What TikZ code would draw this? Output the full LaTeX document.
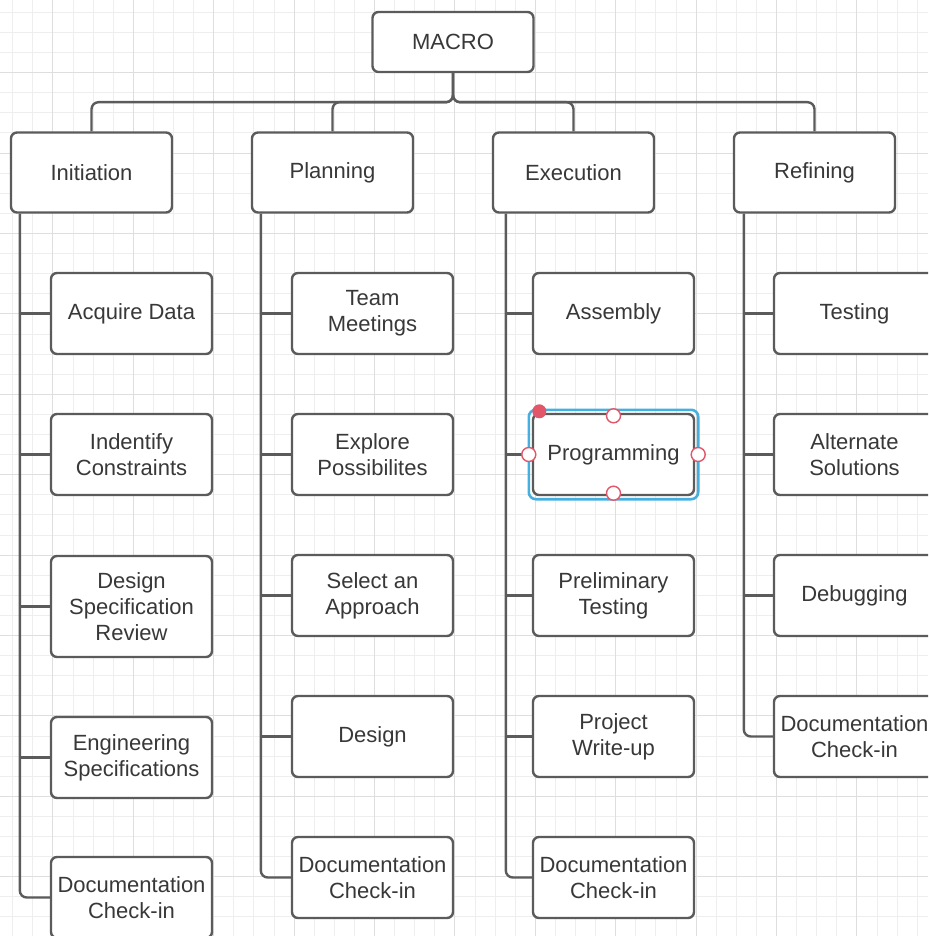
\documentclass[tikz,border=0pt]{standalone}
\usepackage{fontspec}
\setmainfont{Liberation Sans}
\usepackage{xcolor}
\usetikzlibrary{positioning, calc}
\definecolor{kline}{HTML}{5B5B5B}
\definecolor{ktext}{HTML}{383838}
\definecolor{kgridminor}{HTML}{EEEEEE}
\definecolor{kgridmajor}{HTML}{DEDEDE}
\definecolor{kselect}{HTML}{45B0E0}
\definecolor{khandle}{HTML}{E2566A}
\newcommand{\boxfont}{\fontsize{22}{26}\selectfont}
\tikzset{
  box/.style={draw=kline, line width=2.4pt, rounded corners=6pt, fill=white,
    text=ktext, font=\boxfont, align=center, inner sep=2pt,
    minimum width=161pt, minimum height=81pt},
  conn/.style={draw=kline, line width=2.4pt, rounded corners=7pt},
  handle/.style={draw=khandle, fill=white, line width=1.4pt},
}

\begin{document}
\begin{tikzpicture}[x=1pt, y=-1pt]

  \useasboundingbox (0,0) rectangle (928,936);
  \clip (0,0) rectangle (928,936);

  %% Background grid
  \fill[white] (0,0) rectangle (928,936);
  \foreach \gx in {12.7,32.8,...,928}
    \draw[kgridminor, line width=1pt] (\gx,0) -- (\gx,936);
  \foreach \gy in {12.4,32.5,...,936}
    \draw[kgridminor, line width=1pt] (0,\gy) -- (928,\gy);
  \foreach \gx in {52.9,133.3,...,928}
    \draw[kgridmajor, line width=1pt] (\gx,0) -- (\gx,936);
  \foreach \gy in {72.7,153.1,...,936}
    \draw[kgridmajor, line width=1pt] (0,\gy) -- (928,\gy);

  %% Top level and phases
  \node[box, minimum height=60pt] (macro) at (453,42) {MACRO};
  \node[box, minimum height=80pt] (ini) at (91.5,172.5) {Initiation};
  \node[box, minimum height=80pt] (pla) at (332.5,172.5) {Planning};
  \node[box, minimum height=80pt] (exe) at (573.5,172.5) {Execution};
  \node[box, minimum height=80pt] (ref) at (814.5,172.5) {Refining};

  \foreach \c in {ini,pla,exe,ref}
    \draw[conn] (macro.south) -- ++(0,29) -| (\c.north);

  %% Initiation tasks
  \foreach \k/\y/\h/\txt in {1/313.5/81/Acquire Data,
      2/454.5/81/Indentify\\Constraints,
      3/606.5/101/Design\\Specification\\Review,
      4/757.5/81/Engineering\\Specifications,
      5/897.5/81/Documentation\\Check-in}
    \node[box, minimum height=\h pt] (ini\k) at (131.5,\y) {\txt};

  %% Planning tasks
  \foreach \k/\y/\txt in {1/313.5/Team\\Meetings,
      2/454.5/Explore\\Possibilites,
      3/595.5/Select an\\Approach,
      4/736.5/Design,
      5/877.5/Documentation\\Check-in}
    \node[box] (pla\k) at (372.5,\y) {\txt};

  %% Execution tasks
  \foreach \k/\y/\txt in {1/313.5/Assembly,
      2/454.5/Programming,
      3/595.5/Preliminary\\Testing,
      4/736.5/Project\\Write-up,
      5/877.5/Documentation\\Check-in}
    \node[box] (exe\k) at (613.5,\y) {\txt};

  %% Refining tasks
  \foreach \k/\y/\txt in {1/313.5/Testing,
      2/454.5/Alternate\\Solutions,
      3/595.5/Debugging,
      4/736.5/Documentation\\Check-in}
    \node[box] (ref\k) at (854.5,\y) {\txt};

  %% Trunks down each phase
  \coordinate (iniT) at ([xshift=10pt]ini.south west);
  \coordinate (plaT) at ([xshift=10pt]pla.south west);
  \coordinate (exeT) at ([xshift=14pt]exe.south west);
  \coordinate (refT) at ([xshift=11pt]ref.south west);

  \foreach \c/\n in {ini/5,pla/5,exe/5,ref/4}{
    \draw[conn] (\c T) |- (\c\n.west);
    \pgfmathtruncatemacro{\last}{\n-1}
    \foreach \k in {1,...,\last}
      \draw[conn] (\c\k.west -| \c T) -- (\c\k.west);
  }

  %% Selected shape
  \draw[kselect, line width=2.6pt, rounded corners=7pt]
    ([shift={(-3,-3)}]exe2.north west) rectangle ([shift={(3,3)}]exe2.south east);
  \fill[khandle] ([shift={(7.5,-1.5)}]exe2.north west) circle (7);
  \draw[handle] ([yshift=-3pt]exe2.north) circle (7);
  \draw[handle] ([yshift=3pt]exe2.south) circle (7);
  \draw[handle] ([xshift=-3pt]exe2.west) circle (7);
  \draw[handle] ([xshift=3pt]exe2.east) circle (7);

\end{tikzpicture}
\end{document}
